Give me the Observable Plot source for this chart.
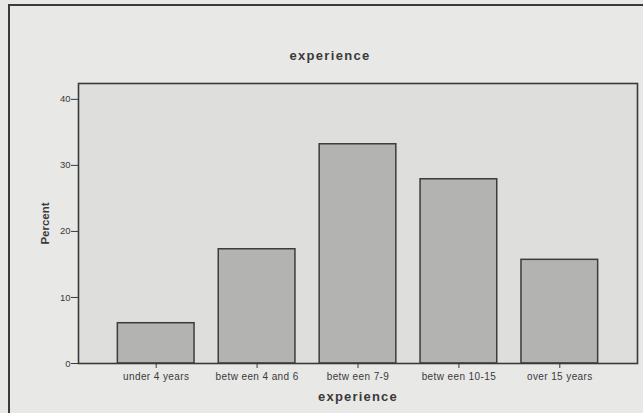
<!DOCTYPE html>
<html>
<head>
<meta charset="utf-8">
<script src="https://cdn.jsdelivr.net/npm/d3@7"></script>
<script src="https://cdn.jsdelivr.net/npm/@observablehq/plot@0.6"></script>
<style>
  html, body { margin: 0; padding: 0; background: #e8e8e6; overflow: hidden; }
  #wrap { position: relative; width: 643px; height: 413px; font-family: "Liberation Sans", Arial, sans-serif; }
  #frame { position: absolute; left: 8px; top: 4px; width: 700px; height: 500px; border: 2px solid #3a3a3a; box-sizing: border-box; }
  #title { position: absolute; left: 0; width: 660px; top: 48px; text-align: center; font-weight: bold; font-size: 13px; letter-spacing: 1.3px; color: #3a3a3a; }
  #chart { position: absolute; left: 0; top: 70px; }
  .xticks text { letter-spacing: 0.4px; }
  .xlab text { letter-spacing: 1.2px; }
</style>
</head>
<body>
<div id="wrap">
  <div id="frame"></div>
  <div id="title">experience</div>
  <div id="chart"></div>
</div>
<script>
const categories = ["under 4 years", "betw een 4 and 6", "betw een 7-9", "betw een 10-15", "over 15 years"];
const percents = [6.1, 17.3, 33.2, 27.9, 15.7];
const yTicks = [0, 10, 20, 30, 40];
const xLabel = "experience";
const yLabel = "Percent";

const data = categories.map((c, i) => ({category: c, percent: percents[i]}));

const chart = Plot.plot({
  width: 643,
  height: 343,
  marginLeft: 78,
  marginRight: 6,
  marginTop: 13,
  marginBottom: 50,
  style: {background: "transparent", fontFamily: "'Liberation Sans', Arial, sans-serif", color: "#3a3a3a"},
  x: {domain: categories, paddingInner: 0.24, paddingOuter: 0.39, round: false, label: null},
  y: {domain: [0, 42.4], label: null},
  marks: [
    Plot.frame({fill: "#dededc", stroke: null}),
    Plot.barY(data, {x: "category", y: "percent", fill: "#b3b3b1", stroke: "#3c3c3c", strokeWidth: 1.5}),
    Plot.frame({stroke: "#3a3a3a", strokeWidth: 1.6, fill: "none"}),
    Plot.axisY({ticks: yTicks, tickSize: 7, tickPadding: 1, fontSize: 9.5, stroke: "#3a3a3a", label: null}),
    Plot.axisX({tickSize: 5, tickPadding: 4, fontSize: 10, stroke: "#3a3a3a", label: null, className: "xticks"}),
    Plot.text([yLabel], {frameAnchor: "left", textAnchor: "middle", rotate: -90, dx: -33, text: d => d, fontWeight: "bold", fontSize: 11.5, fill: "#3a3a3a"}),
    Plot.text([xLabel], {frameAnchor: "bottom", textAnchor: "middle", dy: 37, text: d => d, fontWeight: "bold", fontSize: 13, fill: "#3a3a3a", className: "xlab"})
  ]
});
document.getElementById("chart").appendChild(chart);
</script>
</body>
</html>
